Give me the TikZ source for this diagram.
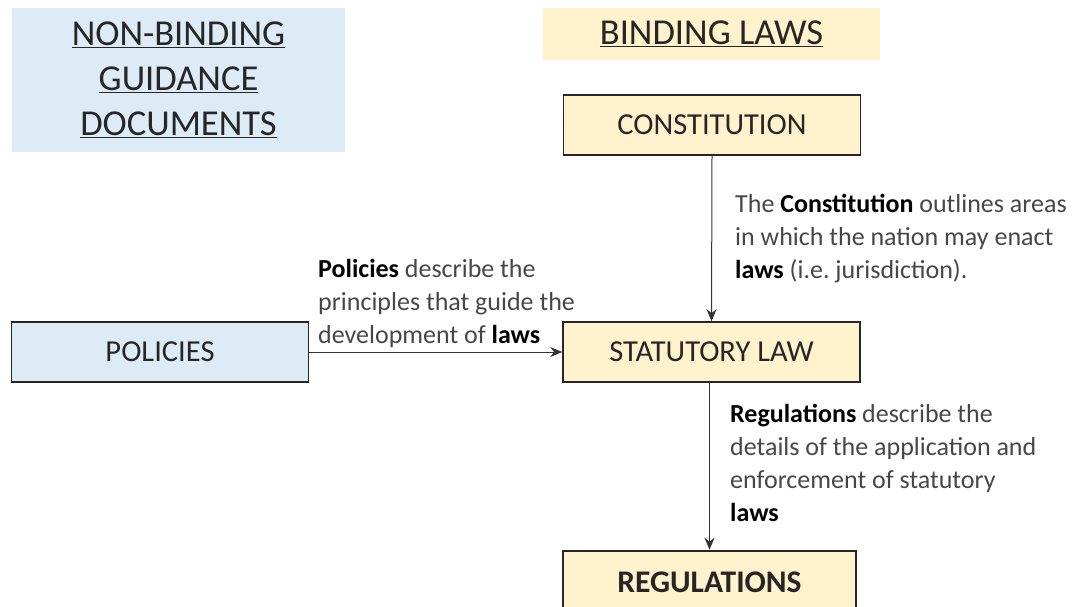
\documentclass[tikz,border=0pt]{standalone}
\usepackage{fontspec}
\setmainfont{Carlito}
\usetikzlibrary{arrows.meta}
\definecolor{guideblue}{HTML}{DDEBF7}
\definecolor{lawyellow}{HTML}{FFF2CC}
\definecolor{notegray}{HTML}{474747}
\definecolor{labelgray}{HTML}{262626}
\newcommand{\kword}[1]{{\color{black}\bfseries #1}}
\frenchspacing
\begin{document}
\begin{tikzpicture}[x=1pt,y=-1pt,line cap=butt,line join=miter,>={Stealth[length=12pt,width=10pt]}]
	\tikzset{header/.style={inner sep=0,align=center,text=labelgray,font=\fontsize{36.5}{45}\selectfont},
		lawbox/.style={draw=black!85,line width=1.6pt,fill=lawyellow,minimum width=297pt,minimum height=60pt,
			inner sep=0,text=labelgray,font=\fontsize{30.5}{36}\selectfont},
		note/.style={anchor=north west,inner sep=0,align=left,text=notegray,font=\fontsize{26}{33}\selectfont},
		link/.style={->,line width=1pt,black!80}}
	\useasboundingbox (0,0) rectangle (1073,607);
	\clip (0,0) rectangle (1073,607);
	% headers
	\node[header,fill=guideblue,minimum width=333pt,minimum height=144pt] (guide) at (178.5,80)
		{\underline{NON-BINDING}\\\underline{GUIDANCE}\\\underline{DOCUMENTS}};
	\node[header,fill=lawyellow,minimum width=337pt,minimum height=52pt] (binding) at (711.5,34)
		{\underline{BINDING LAWS}};
	% boxes
	\node[lawbox] (const) at (712,125) {CONSTITUTION};
	\node[lawbox] (statute) at (711.5,352) {STATUTORY LAW};
	\node[lawbox,fill=guideblue] (policies) at (160,352) {POLICIES};
	\node[lawbox,line width=2.6pt,minimum width=293pt,minimum height=62pt,font=\fontsize{31.5}{36}\selectfont\bfseries] (regs) at (709.5,582) {REGULATIONS};
	% connectors
	\draw[link] (const.south) -- (statute.north);
	\draw[link] (policies.east) -- (statute.west);
	\draw[link] (regs.north |- statute.south) -- (regs.north);
	% notes
	\node[note] (constnote) at (735,194) {The \kword{Constitution} outlines areas\\in which the nation may enact\\\kword{laws} (i.e. jurisdiction).};
	\node[note] (polnote) at (318,259) {\kword{Policies} describe the\\principles that guide the\\development of \kword{laws}};
	\node[note] (regsnote) at (730,404) {\kword{Regulations} describe the\\details of the application and\\enforcement of statutory\\\kword{laws}};
\end{tikzpicture}
\end{document}
